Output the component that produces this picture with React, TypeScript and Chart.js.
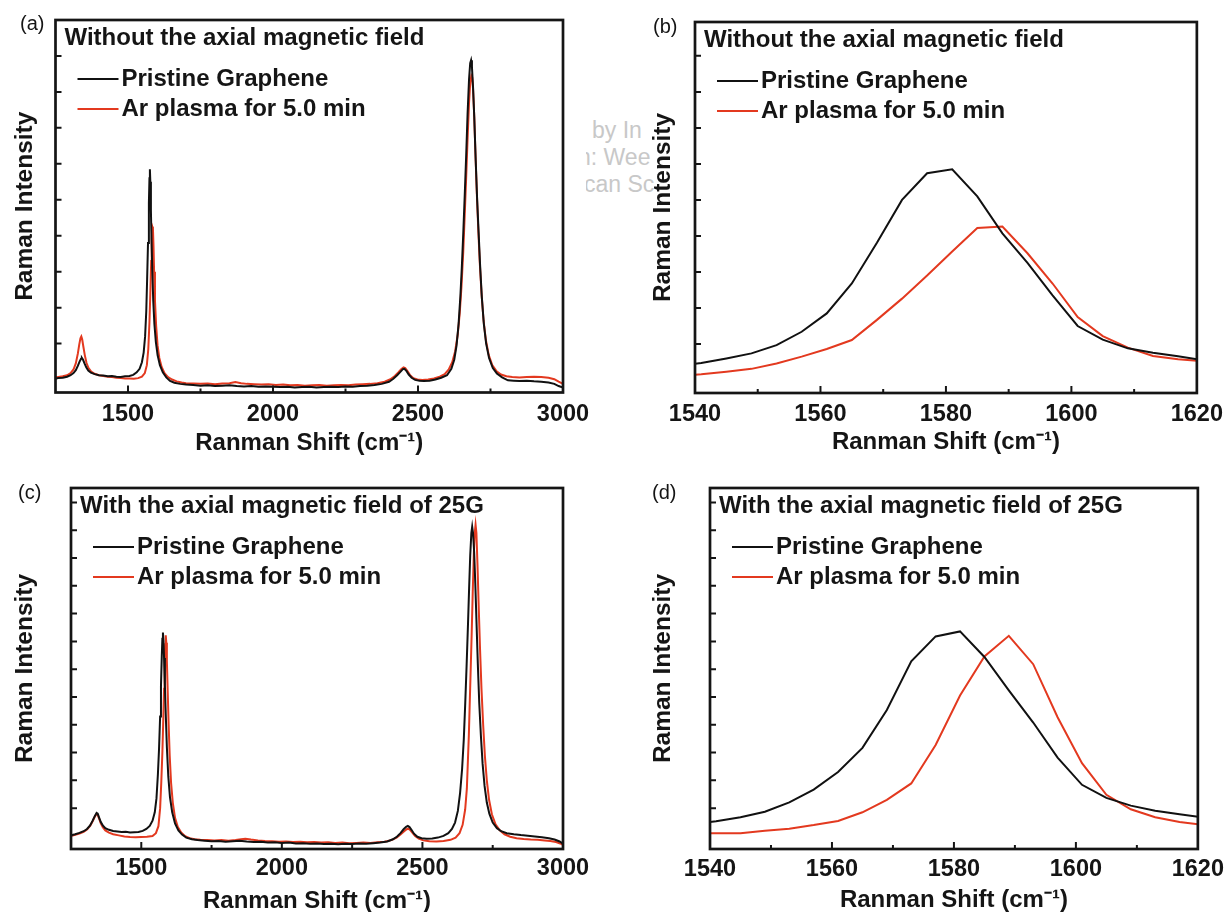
import React, { useEffect, useRef } from 'react';
import { Chart, registerables } from 'chart.js';

Chart.register(...registerables);

const FONT_FAMILY = '"Liberation Sans", Arial, Helvetica, sans-serif';
const INK = '#151515';
const PRISTINE_COLOR = '#111111';
const PLASMA_COLOR = '#e3391f';

const seriesNames = ['Pristine Graphene', 'Ar plasma for 5.0 min'];
const noFieldTitle = 'Without the axial magnetic field';
const fieldTitle = 'With the axial magnetic field of 25G';
const xAxisTitle = 'Ranman Shift (cm\u207B\u00B9)';
const yAxisTitle = 'Raman Intensity';
const panelLabels = ['(a)', '(b)', '(c)', '(d)'];

type Pt = [number, number];

// (a) full spectra, no magnetic field
const fullNoFieldPristine: Pt[] = [
  [1245, 0.02], [1260, 0.04], [1275, 0.05], [1290, 0.08], [1302, 0.12], [1312, 0.18], [1320, 0.26],
  [1327, 0.38], [1333, 0.5], [1338, 0.58], [1341, 0.6], [1345, 0.55], [1350, 0.45], [1356, 0.34],
  [1363, 0.25], [1372, 0.19], [1385, 0.15], [1400, 0.12], [1415, 0.11], [1430, 0.09], [1445, 0.1],
  [1460, 0.08], [1475, 0.07], [1490, 0.09], [1505, 0.1], [1518, 0.13], [1530, 0.2], [1540, 0.3],
  [1548, 0.48], [1554, 0.75], [1559, 1.2], [1563, 1.9], [1566, 2.8], [1569, 3.8], [1572, 4.9],
  [1574, 5.6], [1575.5, 5.85], [1577, 5.5], [1579, 4.7], [1581, 3.9], [1584, 3.0], [1587, 2.2],
  [1591, 1.55], [1596, 1.05], [1602, 0.68], [1610, 0.4], [1620, 0.2], [1632, 0.06], [1645, -0.04],
  [1660, -0.09], [1680, -0.12], [1700, -0.14], [1725, -0.15], [1750, -0.17], [1775, -0.16],
  [1800, -0.18], [1825, -0.17], [1850, -0.16], [1875, -0.18], [1900, -0.19], [1925, -0.18],
  [1950, -0.2], [1975, -0.19], [2000, -0.2], [2025, -0.21], [2050, -0.2], [2075, -0.22], [2100, -0.21],
  [2125, -0.2], [2150, -0.22], [2175, -0.21], [2200, -0.2], [2225, -0.21], [2250, -0.19], [2275, -0.2],
  [2300, -0.18], [2325, -0.17], [2350, -0.15], [2375, -0.12], [2400, -0.06], [2415, 0.02], [2428, 0.12],
  [2440, 0.22], [2448, 0.29], [2453, 0.3], [2460, 0.24], [2468, 0.14], [2478, 0.05], [2490, -0.01],
  [2505, -0.03], [2520, -0.04], [2540, -0.03], [2560, 0.0], [2580, 0.05], [2600, 0.12], [2615, 0.3],
  [2625, 0.55], [2633, 0.95], [2640, 1.55], [2646, 2.3], [2651, 3.1], [2656, 4.05], [2661, 5.1],
  [2666, 6.2], [2671, 7.4], [2676, 8.35], [2680, 8.8], [2683, 8.88], [2686, 8.7], [2690, 8.1],
  [2694, 7.3], [2699, 6.1], [2704, 5.0], [2709, 4.1], [2714, 3.2], [2720, 2.3], [2727, 1.55],
  [2735, 1.0], [2745, 0.6], [2758, 0.32], [2772, 0.17], [2790, 0.06], [2810, -0.02], [2830, -0.03],
  [2850, -0.04], [2875, -0.03], [2900, -0.05], [2925, -0.06], [2950, -0.08], [2970, -0.12],
  [2985, -0.18], [3000, -0.22],
];

const fullNoFieldPlasma: Pt[] = [
  [1245, 0.05], [1260, 0.07], [1275, 0.09], [1290, 0.12], [1302, 0.18], [1312, 0.28], [1320, 0.45],
  [1327, 0.72], [1332, 0.98], [1336, 1.15], [1339, 1.2], [1342, 1.12], [1346, 0.92], [1351, 0.68],
  [1357, 0.46], [1364, 0.32], [1373, 0.22], [1385, 0.16], [1400, 0.12], [1415, 0.1], [1430, 0.08],
  [1445, 0.07], [1460, 0.05], [1475, 0.04], [1490, 0.03], [1505, 0.03], [1520, 0.02], [1535, 0.04],
  [1548, 0.08], [1558, 0.18], [1565, 0.4], [1570, 0.85], [1574, 1.6], [1577, 2.4], [1580, 3.3],
  [1582, 3.9], [1584, 4.25], [1586, 4.2], [1588, 3.7], [1590, 3.0], [1593, 2.2], [1597, 1.5],
  [1602, 0.95], [1608, 0.6], [1616, 0.35], [1626, 0.18], [1638, 0.07], [1652, 0.0], [1668, -0.05],
  [1685, -0.08], [1700, -0.1], [1725, -0.11], [1750, -0.12], [1775, -0.11], [1800, -0.13],
  [1825, -0.11], [1850, -0.1], [1870, -0.07], [1890, -0.1], [1910, -0.12], [1935, -0.13],
  [1960, -0.14], [1985, -0.13], [2010, -0.15], [2035, -0.14], [2060, -0.16], [2085, -0.15],
  [2110, -0.17], [2135, -0.16], [2160, -0.15], [2185, -0.17], [2210, -0.16], [2235, -0.15],
  [2260, -0.16], [2285, -0.14], [2310, -0.13], [2335, -0.12], [2360, -0.1], [2385, -0.06],
  [2405, 0.01], [2420, 0.1], [2432, 0.2], [2442, 0.29], [2450, 0.34], [2456, 0.32], [2463, 0.24],
  [2472, 0.13], [2484, 0.04], [2498, 0.0], [2515, -0.01], [2535, 0.0], [2555, 0.03], [2575, 0.08],
  [2592, 0.15], [2606, 0.28], [2618, 0.48], [2628, 0.78], [2637, 1.25], [2644, 1.85], [2650, 2.6],
  [2656, 3.55], [2661, 4.55], [2666, 5.6], [2671, 6.7], [2676, 7.7], [2680, 8.25], [2684, 8.45],
  [2687, 8.4], [2690, 8.05], [2694, 7.3], [2698, 6.3], [2703, 5.15], [2708, 4.15], [2713, 3.25],
  [2719, 2.4], [2726, 1.65], [2734, 1.1], [2744, 0.68], [2756, 0.4], [2770, 0.24], [2786, 0.14],
  [2805, 0.09], [2825, 0.07], [2850, 0.06], [2875, 0.07], [2900, 0.08], [2925, 0.07], [2950, 0.05],
  [2970, 0.01], [2985, -0.06], [3000, -0.12],
];

// (b) G band, no magnetic field
const gBandNoFieldPristine: Pt[] = [
  [1537, 0.39], [1541, 0.47], [1545, 0.6], [1549, 0.74], [1553, 0.97], [1557, 1.34], [1561, 1.85],
  [1565, 2.68], [1569, 3.81], [1573, 5.0], [1577, 5.74], [1581, 5.85], [1585, 5.1], [1589, 4.07],
  [1593, 3.25], [1597, 2.35], [1601, 1.5], [1605, 1.12], [1609, 0.88], [1613, 0.76], [1617, 0.66],
  [1621, 0.55],
];

const gBandNoFieldPlasma: Pt[] = [
  [1537, 0.12], [1541, 0.16], [1545, 0.23], [1549, 0.31], [1553, 0.46], [1557, 0.65], [1561, 0.86],
  [1565, 1.11], [1569, 1.67], [1573, 2.26], [1577, 2.9], [1581, 3.57], [1585, 4.22], [1589, 4.26],
  [1593, 3.52], [1597, 2.68], [1601, 1.75], [1605, 1.22], [1609, 0.9], [1613, 0.67], [1617, 0.58],
  [1621, 0.52],
];

// (c) full spectra, 25 G axial field
const fullFieldPristine: Pt[] = [
  [1250, 0.02], [1265, 0.06], [1280, 0.11], [1295, 0.17], [1307, 0.25], [1318, 0.38], [1327, 0.55],
  [1335, 0.72], [1341, 0.83], [1345, 0.8], [1350, 0.66], [1356, 0.5], [1363, 0.38], [1372, 0.28],
  [1385, 0.22], [1400, 0.18], [1415, 0.16], [1430, 0.14], [1445, 0.15], [1460, 0.12], [1475, 0.13],
  [1490, 0.14], [1505, 0.18], [1518, 0.25], [1530, 0.36], [1540, 0.55], [1548, 0.85], [1554, 1.35],
  [1559, 2.2], [1563, 3.1], [1567, 4.3], [1570, 5.4], [1573, 6.5], [1575, 7.1], [1577, 7.32],
  [1579, 7.0], [1581, 6.4], [1584, 5.4], [1587, 4.4], [1591, 3.2], [1596, 2.15], [1602, 1.4],
  [1610, 0.85], [1620, 0.45], [1632, 0.2], [1645, 0.05], [1660, -0.06], [1680, -0.12], [1700, -0.15],
  [1725, -0.17], [1750, -0.19], [1775, -0.18], [1800, -0.21], [1825, -0.19], [1850, -0.17],
  [1875, -0.2], [1900, -0.22], [1925, -0.21], [1950, -0.24], [1975, -0.23], [2000, -0.25],
  [2025, -0.24], [2050, -0.27], [2075, -0.26], [2100, -0.28], [2125, -0.27], [2150, -0.29],
  [2175, -0.28], [2200, -0.3], [2225, -0.28], [2250, -0.29], [2275, -0.27], [2300, -0.28],
  [2325, -0.26], [2350, -0.24], [2375, -0.2], [2395, -0.12], [2410, -0.02], [2422, 0.1],
  [2433, 0.24], [2442, 0.33], [2448, 0.36], [2454, 0.32], [2461, 0.22], [2470, 0.08], [2482, -0.03],
  [2497, -0.08], [2515, -0.1], [2535, -0.09], [2555, -0.06], [2575, 0.0], [2592, 0.1], [2605, 0.25],
  [2616, 0.48], [2626, 0.9], [2634, 1.55], [2641, 2.4], [2647, 3.45], [2652, 4.7], [2657, 6.1],
  [2662, 7.6], [2666, 8.9], [2670, 10.1], [2674, 10.9], [2677, 11.13], [2680, 10.9], [2684, 10.2],
  [2688, 9.1], [2692, 7.8], [2697, 6.2], [2702, 4.8], [2708, 3.6], [2714, 2.6], [2721, 1.8],
  [2729, 1.2], [2738, 0.8], [2750, 0.48], [2765, 0.28], [2780, 0.17], [2800, 0.1], [2825, 0.06],
  [2850, 0.03], [2875, 0.01], [2900, -0.02], [2925, -0.05], [2950, -0.08], [2970, -0.13],
  [2988, -0.2], [3000, -0.28],
];

const fullFieldPlasma: Pt[] = [
  [1250, 0.0], [1265, 0.04], [1280, 0.09], [1295, 0.15], [1307, 0.23], [1318, 0.36], [1327, 0.53],
  [1335, 0.7], [1341, 0.79], [1345, 0.76], [1350, 0.62], [1356, 0.45], [1363, 0.31], [1372, 0.2],
  [1385, 0.12], [1400, 0.06], [1420, 0.02], [1440, -0.02], [1460, -0.04], [1480, -0.05], [1500, -0.04],
  [1520, -0.03], [1540, 0.0], [1552, 0.1], [1561, 0.35], [1567, 1.0], [1571, 1.9], [1575, 3.0],
  [1578, 4.1], [1581, 5.3], [1583, 6.2], [1585, 6.9], [1587, 7.22], [1589, 6.95], [1591, 6.3],
  [1594, 5.2], [1597, 4.1], [1601, 2.9], [1606, 1.9], [1612, 1.2], [1620, 0.65], [1630, 0.32],
  [1642, 0.12], [1656, -0.01], [1672, -0.08], [1690, -0.12], [1710, -0.14], [1735, -0.15],
  [1760, -0.16], [1785, -0.15], [1810, -0.17], [1835, -0.15], [1855, -0.12], [1870, -0.1],
  [1890, -0.13], [1915, -0.16], [1940, -0.18], [1965, -0.19], [1990, -0.21], [2015, -0.2],
  [2040, -0.22], [2065, -0.21], [2090, -0.23], [2115, -0.22], [2140, -0.24], [2165, -0.23],
  [2190, -0.25], [2215, -0.24], [2240, -0.26], [2265, -0.25], [2290, -0.24], [2315, -0.25],
  [2340, -0.23], [2365, -0.21], [2390, -0.15], [2408, -0.06], [2422, 0.05], [2434, 0.16],
  [2444, 0.24], [2450, 0.26], [2456, 0.22], [2464, 0.12], [2474, 0.0], [2487, -0.1], [2503, -0.16],
  [2525, -0.19], [2550, -0.2], [2575, -0.18], [2600, -0.14], [2618, -0.06], [2632, 0.1], [2643, 0.4],
  [2652, 0.95], [2658, 1.7], [2665, 3.6], [2670, 5.4], [2675, 7.2], [2679, 8.8], [2683, 10.2],
  [2686, 10.9], [2689, 11.2], [2692, 10.9], [2696, 9.7], [2700, 8.3], [2705, 6.7], [2710, 5.3],
  [2716, 4.0], [2722, 2.9], [2729, 2.0], [2737, 1.3], [2747, 0.78], [2760, 0.42], [2775, 0.2],
  [2792, 0.06], [2812, -0.03], [2835, -0.08], [2860, -0.11], [2885, -0.13], [2910, -0.14],
  [2935, -0.16], [2955, -0.18], [2975, -0.22], [2990, -0.27], [3000, -0.32],
];

// (d) G band, 25 G axial field
const gBandFieldPristine: Pt[] = [
  [1537, 0.41], [1541, 0.53], [1545, 0.67], [1549, 0.87], [1553, 1.21], [1557, 1.67], [1561, 2.3],
  [1565, 3.17], [1569, 4.53], [1573, 6.28], [1577, 7.18], [1581, 7.36], [1585, 6.44], [1589, 5.24],
  [1593, 4.08], [1597, 2.82], [1601, 1.84], [1605, 1.37], [1609, 1.09], [1613, 0.91], [1617, 0.78],
  [1621, 0.66],
];

const gBandFieldPlasma: Pt[] = [
  [1537, 0.1], [1541, 0.1], [1545, 0.1], [1549, 0.19], [1553, 0.26], [1557, 0.39], [1561, 0.54],
  [1565, 0.85], [1569, 1.3], [1573, 1.89], [1577, 3.27], [1581, 5.05], [1585, 6.46], [1589, 7.2],
  [1593, 6.18], [1597, 4.27], [1601, 2.62], [1605, 1.48], [1609, 0.96], [1613, 0.67], [1617, 0.5],
  [1621, 0.39],
];

const CANVAS_W = 615;
const CANVAS_H = 456;

interface PanelSpec {
  label: string;
  title: string;
  pageLeft: number;
  pageTop: number;
  area: { left: number; top: number; right: number; bottom: number };
  xMin: number;
  xMax: number;
  xStep: number;
  xLabelEvery: number;
  yMin: number;
  yMax: number;
  pristine: Pt[];
  plasma: Pt[];
  yTitleCenter: number;
  xTitleCenter: number;
  tickPad: number;
  labelPos: { left: number; top: number };
}

const panels: PanelSpec[] = [
  {
    label: panelLabels[0], title: noFieldTitle, pageLeft: 0, pageTop: 0,
    area: { left: 55.5, top: 20, right: 563, bottom: 392.5 },
    xMin: 1250, xMax: 3000, xStep: 250, xLabelEvery: 500, yMin: -0.36, yMax: 10.0,
    pristine: fullNoFieldPristine, plasma: fullNoFieldPlasma,
    yTitleCenter: 25.5, xTitleCenter: 443.5, tickPad: 7.5, labelPos: { left: 20, top: 12 },
  },
  {
    label: panelLabels[1], title: noFieldTitle, pageLeft: 615, pageTop: 0,
    area: { left: 80, top: 22, right: 586.5, bottom: 393 },
    xMin: 1540, xMax: 1620, xStep: 10, xLabelEvery: 20, yMin: -0.36, yMax: 9.94,
    pristine: gBandNoFieldPristine, plasma: gBandNoFieldPlasma,
    yTitleCenter: 48, xTitleCenter: 442.5, tickPad: 7, labelPos: { left: 38, top: 15 },
  },
  {
    label: panelLabels[2], title: fieldTitle, pageLeft: 0, pageTop: 456,
    area: { left: 71, top: 32, right: 563, bottom: 393 },
    xMin: 1250, xMax: 3000, xStep: 250, xLabelEvery: 500, yMin: -0.47, yMax: 12.52,
    pristine: fullFieldPristine, plasma: fullFieldPlasma,
    yTitleCenter: 25.5, xTitleCenter: 445, tickPad: 5.5, labelPos: { left: 18, top: 25 },
  },
  {
    label: panelLabels[3], title: fieldTitle, pageLeft: 615, pageTop: 456,
    area: { left: 95, top: 32, right: 586.5, bottom: 393 },
    xMin: 1540, xMax: 1620, xStep: 10, xLabelEvery: 20, yMin: -0.47, yMax: 12.52,
    pristine: gBandFieldPristine, plasma: gBandFieldPlasma,
    yTitleCenter: 48, xTitleCenter: 444, tickPad: 6, labelPos: { left: 37, top: 25 },
  },
];

const isMultiple = (v: number, step: number) => Math.abs(v / step - Math.round(v / step)) < 1e-6;

// Frame, inward tick marks, inset heading and line-sample legend.
const panelDecor = {
  id: 'panelDecor',
  afterDraw(chart: any, _args: any, opts: any) {
    const { ctx, chartArea: a, scales } = chart;
    const xs = scales.x;
    const ys = scales.y;
    ctx.save();

    ctx.strokeStyle = INK;
    ctx.lineWidth = 2;
    ctx.beginPath();
    for (const t of xs.ticks) {
      if (!isMultiple(t.value, opts.minorStep)) continue;
      const px = xs.getPixelForValue(t.value);
      if (px < a.left + 3 || px > a.right - 3) continue;
      const len = isMultiple(t.value, opts.majorStep) ? 7 : 4;
      ctx.moveTo(px, a.bottom);
      ctx.lineTo(px, a.bottom - len);
    }
    for (const t of ys.ticks) {
      if (!isMultiple(t.value, 1) || t.value < 0) continue;
      const py = ys.getPixelForValue(t.value);
      if (py < a.top + 3) continue;
      ctx.moveTo(a.left, py);
      ctx.lineTo(a.left + 6, py);
    }
    ctx.stroke();

    ctx.lineWidth = 2.7;
    ctx.strokeRect(a.left, a.top, a.right - a.left, a.bottom - a.top);

    ctx.fillStyle = INK;
    ctx.textBaseline = 'middle';
    ctx.textAlign = 'left';
    ctx.font = `bold 24px ${FONT_FAMILY}`;
    ctx.fillText(opts.heading, a.left + 9, a.top + 18);

    chart.data.datasets.forEach((ds: any, i: number) => {
      const y = a.top + 59 + i * 30;
      ctx.strokeStyle = ds.borderColor;
      ctx.lineWidth = 2;
      ctx.beginPath();
      ctx.moveTo(a.left + 22, y);
      ctx.lineTo(a.left + 63, y);
      ctx.stroke();
      ctx.fillStyle = INK;
      ctx.fillText(ds.label, a.left + 66, y);
    });
    ctx.restore();
  },
};

function SpectrumPanel({ spec }: { spec: PanelSpec }) {
  const canvasRef = useRef<HTMLCanvasElement | null>(null);

  useEffect(() => {
    const canvas = canvasRef.current;
    if (!canvas) return;
    const { area } = spec;
    const toPoints = (pts: Pt[]) => pts.map(([x, y]) => ({ x, y }));
    const chart = new Chart(canvas, {
      type: 'line',
      data: {
        datasets: [
          {
            label: seriesNames[0],
            data: toPoints(spec.pristine),
            borderColor: PRISTINE_COLOR,
            borderWidth: 2,
            pointRadius: 0,
            tension: 0,
            fill: false,
          },
          {
            label: seriesNames[1],
            data: toPoints(spec.plasma),
            borderColor: PLASMA_COLOR,
            borderWidth: 2,
            pointRadius: 0,
            tension: 0,
            fill: false,
          },
        ],
      },
      options: {
        responsive: false,
        animation: false,
        devicePixelRatio: 1,
        layout: {
          padding: { left: 0, top: area.top, right: CANVAS_W - area.right, bottom: 0 },
        },
        plugins: {
          legend: { display: false },
          tooltip: { enabled: false },
          title: { display: false },
          panelDecor: {
            heading: spec.title,
            minorStep: spec.xStep,
            majorStep: spec.xLabelEvery,
          },
        } as any,
        scales: {
          x: {
            type: 'linear',
            min: spec.xMin,
            max: spec.xMax,
            grid: { display: false, drawTicks: false },
            border: { display: false },
            ticks: {
              stepSize: spec.xStep,
              autoSkip: false,
              maxRotation: 0,
              padding: spec.tickPad,
              color: INK,
              font: { family: FONT_FAMILY, size: 23.5, weight: 'bold' },
              callback: (v: any) => (isMultiple(Number(v), spec.xLabelEvery) ? String(v) : ''),
            },
            title: {
              display: true,
              text: xAxisTitle,
              color: INK,
              font: { family: FONT_FAMILY, size: 24, weight: 'bold' },
              padding: { top: 0, bottom: CANVAS_H - spec.xTitleCenter - 14.4 },
            },
            afterFit: (scale: any) => {
              scale.height = CANVAS_H - area.bottom;
            },
          },
          y: {
            type: 'linear',
            min: spec.yMin,
            max: spec.yMax,
            grid: { display: false, drawTicks: false },
            border: { display: false },
            ticks: { display: false, stepSize: 1 },
            title: {
              display: true,
              text: yAxisTitle,
              color: INK,
              font: { family: FONT_FAMILY, size: 24.5, weight: 'bold' },
              padding: { top: spec.yTitleCenter - 14.7, bottom: 0 },
            },
            afterFit: (scale: any) => {
              scale.width = area.left;
            },
          },
        },
      } as any,
      plugins: [panelDecor],
    });
    return () => chart.destroy();
  }, [spec]);

  return (
    <>
      <canvas
        ref={canvasRef}
        width={CANVAS_W}
        height={CANVAS_H}
        style={{
          position: 'absolute',
          left: spec.pageLeft,
          top: spec.pageTop,
          width: CANVAS_W,
          height: CANVAS_H,
        }}
      />
      <div
        style={{
          position: 'absolute',
          left: spec.pageLeft + spec.labelPos.left,
          top: spec.pageTop + spec.labelPos.top,
          font: `20px ${FONT_FAMILY}`,
          lineHeight: '22px',
          color: INK,
        }}
      >
        {spec.label}
      </div>
    </>
  );
}

const watermarkLines = ['by In', 'n: Wee', 'can Sc'];
const watermarkIndent = [6, -8, -2];

export default function App() {
  return (
    <div
      style={{
        position: 'absolute',
        left: 0,
        top: 0,
        width: 1230,
        height: 912,
        background: '#ffffff',
        overflow: 'hidden',
      }}
    >
      <div
        style={{
          position: 'absolute',
          left: 586,
          top: 117,
          width: 94,
          height: 84,
          overflow: 'hidden',
          color: '#c8c8c8',
          font: `23px ${FONT_FAMILY}`,
          lineHeight: '27px',
          whiteSpace: 'nowrap',
        }}
      >
        {watermarkLines.map((t, i) => (
          <div key={t} style={{ marginLeft: watermarkIndent[i] }}>
            {t}
          </div>
        ))}
      </div>
      {panels.map((p) => (
        <SpectrumPanel key={p.label} spec={p} />
      ))}
    </div>
  );
}
